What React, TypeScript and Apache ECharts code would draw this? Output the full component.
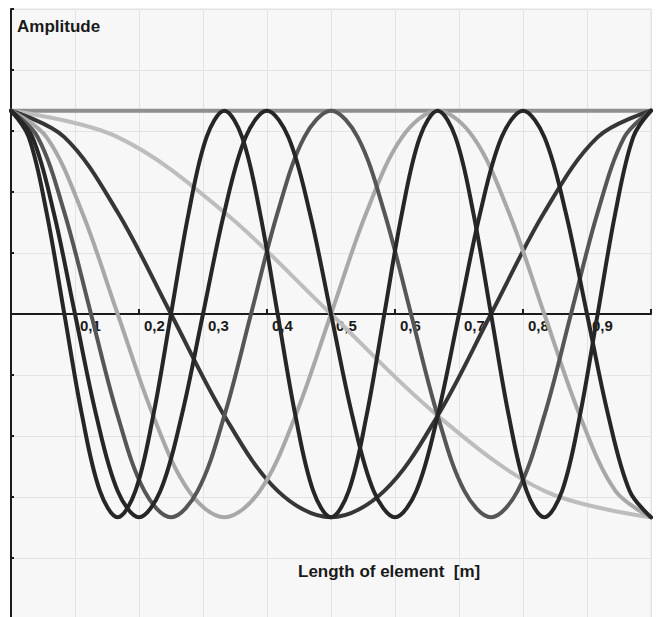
import React, { useEffect, useRef } from "react";
import * as echarts from "echarts";

// Mode shapes: amplitude at evenly spaced stations along the element (x from 0 to 1 m)
const MODE_0 = [1, 1];
const MODE_1 = [1, 0.87, 0.5, 0, -0.5, -0.87, -1];
const MODE_2 = [1, 0.87, 0.5, 0, -0.5, -0.87, -1, -0.87, -0.5, 0, 0.5, 0.87, 1];
const MODE_3 = [
  1, 0.87, 0.5, 0, -0.5, -0.87, -1, -0.87, -0.5, 0, 0.5, 0.87,
  1, 0.87, 0.5, 0, -0.5, -0.87, -1,
];
const MODE_4 = [
  1, 0.87, 0.5, 0, -0.5, -0.87, -1, -0.87, -0.5, 0, 0.5, 0.87,
  1, 0.87, 0.5, 0, -0.5, -0.87, -1, -0.87, -0.5, 0, 0.5, 0.87,
  1,
];
const MODE_5 = [
  1, 0.87, 0.5, 0, -0.5, -0.87, -1, -0.87, -0.5, 0, 0.5, 0.87,
  1, 0.87, 0.5, 0, -0.5, -0.87, -1, -0.87, -0.5, 0, 0.5, 0.87,
  1, 0.87, 0.5, 0, -0.5, -0.87, -1,
];
const MODE_6 = [
  1, 0.87, 0.5, 0, -0.5, -0.87, -1, -0.87, -0.5, 0, 0.5, 0.87,
  1, 0.87, 0.5, 0, -0.5, -0.87, -1, -0.87, -0.5, 0, 0.5, 0.87,
  1, 0.87, 0.5, 0, -0.5, -0.87, -1, -0.87, -0.5, 0, 0.5, 0.87,
  1,
];

const MODES = [MODE_0, MODE_1, MODE_2, MODE_3, MODE_4, MODE_5, MODE_6];
const MODE_COLORS = ["#8f8f8f", "#bdbdbd", "#363636", "#a8a8a8", "#565656", "#262626", "#262626"];

const X_TICK_LABELS = ["", "0,1", "0,2", "0,3", "0,4", "0,5", "0,6", "0,7", "0,8", "0,9", ""];
const Y_LABEL = "Amplitude";
const X_LABEL = "Length of element  [m]";

const FONT = '"Liberation Sans", Arial, sans-serif';
const GRID_COLOR = "#e3e3e3";
const AXIS_COLOR = "#1c1c1c";

const GRID_TOP = 9;
const GRID_HEIGHT = 610;

export default function App() {
  const ref = useRef<HTMLDivElement>(null);

  useEffect(() => {
    if (!ref.current) return;
    const chart = echarts.init(ref.current, null, { renderer: "svg" });

    const series = MODES.map((ys, k) => ({
      type: "line",
      name: "mode " + k,
      data: ys.map((y, i) => [i / (ys.length - 1), y]),
      smooth: 0.35,
      showSymbol: false,
      symbol: "none",
      silent: true,
      clip: true,
      lineStyle: { width: 4, color: MODE_COLORS[k], cap: "round", join: "round" },
      itemStyle: { color: MODE_COLORS[k] },
    }));

    chart.setOption({
      animation: false,
      backgroundColor: "#ffffff",
      grid: {
        left: 11,
        top: GRID_TOP,
        width: 640,
        height: GRID_HEIGHT,
        show: true,
        backgroundColor: "#f7f7f7",
        borderColor: GRID_COLOR,
        borderWidth: 1,
        containLabel: false,
        outerBoundsMode: "none",
      },
      xAxis: {
        type: "value",
        position: "bottom",
        min: 0,
        max: 1,
        interval: 0.1,
        offset: -GRID_HEIGHT / 2,
        axisLine: { show: true, onZero: false, lineStyle: { color: AXIS_COLOR, width: 2 } },
        axisTick: { show: true, inside: true, length: 5, lineStyle: { color: AXIS_COLOR, width: 2 } },
        axisLabel: {
          show: true,
          showMinLabel: true,
          showMaxLabel: true,
          hideOverlap: false,
          formatter: (_v: number, i: number) => X_TICK_LABELS[i] ?? "",
          align: "left",
          padding: [0, 0, 0, 5],
          margin: 4,
          fontFamily: FONT,
          fontWeight: "bold",
          fontSize: 15,
          color: "#1a1a1a",
        },
        splitLine: { show: true, lineStyle: { color: GRID_COLOR, width: 1 } },
      },
      yAxis: {
        type: "value",
        min: -1.5,
        max: 1.5,
        interval: 0.3,
        axisLine: { show: true, onZero: false, lineStyle: { color: AXIS_COLOR, width: 2 } },
        axisTick: { show: true, inside: true, length: 3, lineStyle: { color: AXIS_COLOR, width: 2 } },
        axisLabel: { show: false },
        splitLine: { show: true, lineStyle: { color: GRID_COLOR, width: 1 } },
      },
      graphic: [
        {
          type: "text",
          x: 17,
          y: 26.5,
          z: 100,
          style: {
            text: Y_LABEL,
            font: `bold 17px ${FONT}`,
            fill: "#1a1a1a",
            verticalAlign: "middle",
            align: "left",
          },
        },
        {
          type: "text",
          x: 298,
          y: 571,
          z: 100,
          style: {
            text: X_LABEL,
            font: `bold 17px ${FONT}`,
            fill: "#1a1a1a",
            verticalAlign: "middle",
            align: "left",
          },
        },
      ],
      series,
    });

    return () => chart.dispose();
  }, []);

  return (
    <div
      ref={ref}
      style={{ position: "absolute", left: 0, top: 0, width: 657, height: 617 }}
    />
  );
}
